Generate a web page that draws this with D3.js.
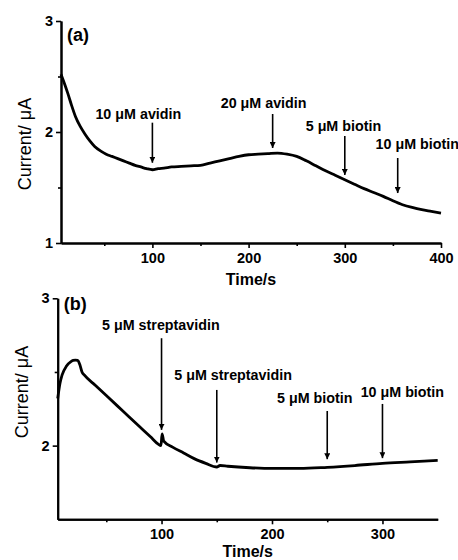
<!DOCTYPE html>
<html><head><meta charset="utf-8">
<script src="https://cdn.jsdelivr.net/npm/d3@7"></script>
<style>body{margin:0;background:#fff}svg{display:block}</style>
</head><body>
<svg id="c" width="458" height="560"></svg>
<script>
// Panel (a) data: time (s) and current (µA)
const timeA = [5,8,12,16,20,25,30,35,40,46,52,58,64,70,76,82,88,94,100,106,112,120,130,140,150,160,170,180,190,200,210,220,230,240,250,260,270,280,290,300,310,320,330,340,350,360,370,380,390,400];
const currentA = [2.52,2.45,2.35,2.24,2.14,2.05,1.98,1.92,1.87,1.83,1.80,1.78,1.76,1.74,1.72,1.70,1.685,1.67,1.66,1.67,1.675,1.685,1.69,1.695,1.70,1.72,1.74,1.76,1.78,1.795,1.80,1.805,1.81,1.80,1.78,1.74,1.695,1.65,1.61,1.57,1.53,1.49,1.455,1.42,1.38,1.345,1.32,1.30,1.285,1.27];
// Panel (b) data
const timeB = [6,8,10,14,18,20,22,24,26,28,30,40,50,60,70,80,90,97,99.5,100.5,102,110,120,130,140,150,153,160,180,200,225,250,275,300,325,350];
const currentB = [2.32,2.42,2.48,2.54,2.57,2.578,2.58,2.578,2.55,2.50,2.48,2.41,2.34,2.27,2.20,2.13,2.06,2.01,2.00,2.08,2.03,1.99,1.95,1.91,1.88,1.855,1.865,1.86,1.85,1.845,1.845,1.853,1.865,1.88,1.89,1.90];

const xTicksA = [100,200,300,400], xMinorA = [50,150,250,350];
const yTicksA = [1,2,3], yMinorA = [1.5,2.5];
const xTicksB = [100,200,300], xMinorB = [50,150,250];
const yTicksB = [2,3], yMinorB = [2.5];

// annotations: label, arrow time, arrow top/bottom (µA), label time, label baseline (µA), anchor
const annLabelsA = ["10 \u03bcM avidin","20 \u03bcM avidin","5 \u03bcM biotin","10 \u03bcM biotin"];
const annTimeA = [100,225,300,355];
const annTopA = [2.084,2.162,1.964,1.766];
const annBotA = [1.723,1.856,1.613,1.45];
const annTextTA = [85.4,215.6,298.6,332];
const annTextVA = [2.117,2.216,2.012,1.844];
const annAnchorA = ["middle","middle","middle","start"];

const annLabelsB = ["5 \u03bcM streptavidin","5 \u03bcM streptavidin","5 \u03bcM biotin","10 \u03bcM biotin"];
const annTimeB = [100,150,250,300];
const annTopB = [2.729,2.378,2.235,2.283];
const annBotB = [2.107,1.885,1.908,1.915];
const annTextTB = [99.4,164.8,238.7,318];
const annTextVB = [2.785,2.446,2.292,2.332];
const annAnchorB = ["middle","middle","middle","middle"];

const svg = d3.select("#c");
const defs = svg.append("defs");
defs.append("marker").attr("id","ah").attr("viewBox","0 0 10 10").attr("refX",10).attr("refY",5)
  .attr("markerWidth",6).attr("markerHeight",6).attr("markerUnits","userSpaceOnUse")
  .attr("orient","auto")
  .append("path").attr("d","M0,0 L10,5 L0,10 Z").attr("fill","#000");

const FONT = "'Liberation Sans', Arial, sans-serif";

function panel(o) {
  const x = d3.scaleLinear().domain(o.xd).range([o.left, o.right]);
  const y = d3.scaleLinear().domain(o.yd).range([o.bottom, o.top]);
  const g = svg.append("g");
  const xAx = d3.axisBottom(x).tickValues(o.xt).tickSize(5).tickSizeOuter(0).tickFormat(d3.format("d"));
  const xMin = d3.axisBottom(x).tickValues(o.xm).tickSize(3).tickSizeOuter(0).tickFormat("");
  const yAx = d3.axisLeft(y).tickValues(o.yt).tickSize(5).tickSizeOuter(0).tickFormat(d3.format("d"));
  const yMin = d3.axisLeft(y).tickValues(o.ym).tickSize(3).tickSizeOuter(0).tickFormat("");
  [[xAx,"x"],[xMin,"x"],[yAx,"y"],[yMin,"y"]].forEach(([ax,t])=>{
    const a = g.append("g").attr("transform", t==="x" ? `translate(0,${o.bottom})` : `translate(${o.left},0)`).call(ax);
    a.selectAll("path.domain").attr("stroke","#000").attr("stroke-width",2);
    a.selectAll(".tick line").attr("stroke","#000").attr("stroke-width",1.6);
    a.selectAll(".tick text").attr("font-family",FONT).attr("font-weight","bold").attr("font-size",14.5).attr("fill","#000");
    if (t==="x") a.selectAll(".tick text").attr("y",6).attr("dy","0.95em");
    else a.selectAll(".tick text").attr("x",-8);
  });
  const data = o.t.map((t,i)=>({t, v:o.v[i]}));
  g.append("path").datum(data)
    .attr("d", d3.line().x(d=>x(d.t)).y(d=>y(d.v)).curve(d3.curveMonotoneX))
    .attr("fill","none").attr("stroke","#000").attr("stroke-width",2.8).attr("stroke-linejoin","round");
  o.labels.forEach((lab,i)=>{
    g.append("line").attr("x1",x(o.at[i])).attr("x2",x(o.at[i]))
      .attr("y1",y(o.atop[i])).attr("y2",y(o.abot[i]))
      .attr("stroke","#000").attr("stroke-width",1.6).attr("marker-end","url(#ah)");
    g.append("text").attr("x",x(o.tt[i])).attr("y",y(o.tv[i]))
      .attr("text-anchor",o.anchor[i]).attr("font-family",FONT).attr("font-weight","bold")
      .attr("font-size",14.3).text(lab);
  });
  g.append("text").attr("x",o.left+6).attr("y",o.top+o.plY).attr("font-family",FONT)
    .attr("font-weight","bold").attr("font-size",18).text(o.name);
  g.append("text").attr("x",(o.left+o.right)/2).attr("y",o.xTitleY).attr("text-anchor","middle")
    .attr("font-family",FONT).attr("font-weight","bold").attr("font-size",16).text("Time/s");
  g.append("text").attr("transform",`translate(${o.yTitleX},${o.yTitleC}) rotate(-90)`)
    .attr("text-anchor","middle").attr("font-family",FONT).attr("font-size",18).text("Current/ \u03bcA");
}

panel({xd:[5,400], yd:[1,3], left:61, right:441, top:21, bottom:243,
  xt:xTicksA, xm:xMinorA, yt:yTicksA, ym:yMinorA, t:timeA, v:currentA,
  labels:annLabelsA, at:annTimeA, atop:annTopA, abot:annBotA, tt:annTextTA, tv:annTextVA, anchor:annAnchorA,
  name:"(a)", plY:20, xTitleY:285, yTitleX:31, yTitleC:144});
panel({xd:[6,350], yd:[1.5,3], left:57.7, right:437.7, top:298.3, bottom:519.3,
  xt:xTicksB, xm:xMinorB, yt:yTicksB, ym:yMinorB, t:timeB, v:currentB,
  labels:annLabelsB, at:annTimeB, atop:annTopB, abot:annBotB, tt:annTextTB, tv:annTextVB, anchor:annAnchorB,
  name:"(b)", plY:12, xTitleY:557, yTitleX:28, yTitleC:392});
</script>
</body></html>
